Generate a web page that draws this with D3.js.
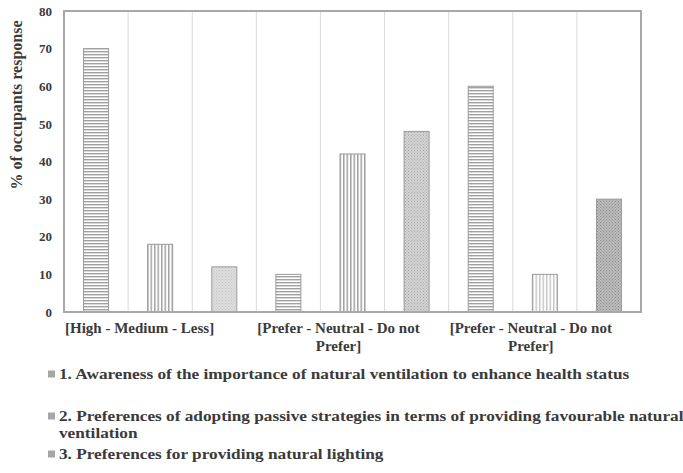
<!DOCTYPE html>
<html>
<head>
<meta charset="utf-8">
<script src="https://cdn.jsdelivr.net/npm/d3@7"></script>
<style>
  html, body { margin: 0; padding: 0; background: #fff; }
  svg { display: block; }
  text { font-family: "Liberation Serif", "Times New Roman", serif; font-weight: bold; fill: #3a3a3a; }
</style>
</head>
<body>
<svg id="chart" width="683" height="473"></svg>
<script>
// Survey response groups (one per category label on the x axis)
const groupLabels = [
  ["[High - Medium - Less]"],
  ["[Prefer - Neutral - Do not", "Prefer]"],
  ["[Prefer - Neutral - Do not", "Prefer]"]
];
// Answer order inside each group
const answers = ["first", "second", "third"];
// % of occupants per group, in answer order
const awarenessValues = [70, 18, 12];
const ventilationValues = [10, 42, 48];
const lightingValues = [60, 10, 30];
const seriesValues = [awarenessValues, ventilationValues, lightingValues];
const yTicks = [0, 10, 20, 30, 40, 50, 60, 70, 80];
const legendLabels = [
  ["1. Awareness of the importance of natural ventilation to enhance health status"],
  ["2. Preferences of adopting passive strategies in terms of providing favourable natural", "ventilation"],
  ["3. Preferences for providing natural lighting"]
];

const svg = d3.select("#chart");
const margin = { left: 64, right: 42, top: 11, bottom: 161 };
const W = 683, H = 473;
const x0 = margin.left, x1 = W - margin.right, yTop = margin.top, yBot = H - margin.bottom;

// Flatten bars: one slot per (group, answer)
const bars = [];
seriesValues.forEach((vals, g) => vals.forEach((v, a) => bars.push({ g, a, v, id: g + "-" + a })));

const x = d3.scaleBand().domain(bars.map(d => d.id)).range([x0, x1]).padding(0);
const y = d3.scaleLinear().domain([0, 80]).range([yBot, yTop]);

// Fill patterns: horizontal lines, vertical lines, dots
const defs = svg.append("defs");
function hPattern(id, col) {
  const p = defs.append("pattern").attr("id", id).attr("patternUnits", "userSpaceOnUse").attr("width", 6).attr("height", 3);
  p.append("rect").attr("width", 6).attr("height", 3).attr("fill", "#fff");
  p.append("rect").attr("y", 0).attr("width", 6).attr("height", 1.4).attr("fill", col);
}
function vPattern(id, col) {
  const p = defs.append("pattern").attr("id", id).attr("patternUnits", "userSpaceOnUse").attr("width", 3.5).attr("height", 6);
  p.append("rect").attr("width", 3.5).attr("height", 6).attr("fill", "#fff");
  p.append("rect").attr("x", 0).attr("width", 1.5).attr("height", 6).attr("fill", col);
}
function dPattern(id, bg, col) {
  const p = defs.append("pattern").attr("id", id).attr("patternUnits", "userSpaceOnUse").attr("width", 3).attr("height", 3);
  p.append("rect").attr("width", 3).attr("height", 3).attr("fill", bg);
  p.append("rect").attr("x", 0).attr("y", 0).attr("width", 1).attr("height", 1).attr("fill", col);
  p.append("rect").attr("x", 1.5).attr("y", 1.5).attr("width", 1).attr("height", 1).attr("fill", col);
}
hPattern("h1", "#a0a0a0"); vPattern("v1", "#a4a4a4"); dPattern("d1", "#dedede", "#c4c4c4");
hPattern("h2", "#a0a0a0"); vPattern("v2", "#a0a0a0"); dPattern("d2", "#d4d4d4", "#aaaaaa");
hPattern("h3", "#a0a0a0"); vPattern("v3", "#c8c8c8"); dPattern("d3", "#bcbcbc", "#8a8a8a");
const fills = [["h1", "v1", "d1"], ["h2", "v2", "d2"], ["h3", "v3", "d3"]];

// Vertical gridlines between slots
const bounds = bars.slice(1).map(d => x(d.id));
svg.append("g").selectAll("line").data(bounds).join("line")
  .attr("x1", d => d).attr("x2", d => d).attr("y1", yTop).attr("y2", yBot)
  .attr("stroke", "#dadada").attr("stroke-width", 1);

// Bars
const bw = x.bandwidth() * 0.39;
svg.append("g").selectAll("rect").data(bars).join("rect")
  .attr("x", d => x(d.id) + (x.bandwidth() - bw) / 2)
  .attr("width", bw)
  .attr("y", d => y(d.v))
  .attr("height", d => y(0) - y(d.v))
  .attr("fill", d => `url(#${fills[d.g][d.a]})`)
  .attr("stroke", "#9a9a9a").attr("stroke-width", 1);

// Plot frame
svg.append("rect").attr("x", x0).attr("y", yTop).attr("width", x1 - x0).attr("height", yBot - yTop)
  .attr("fill", "none").attr("stroke", "#a8a8a8").attr("stroke-width", 2);

// Y axis tick labels
const yAxis = d3.axisLeft(y).tickValues(yTicks).tickSize(0).tickPadding(12);
const ya = svg.append("g").attr("transform", `translate(${x0},0)`).call(yAxis);
ya.select(".domain").remove();
ya.selectAll("text").attr("font-size", 13).attr("fill", "#3a3a3a");

// Y axis title
svg.append("text").attr("transform", "translate(22,105) rotate(-90)")
  .attr("text-anchor", "middle").attr("font-size", 16).text("% of occupants response");

// Group labels: first line starts at the group's left edge, wrap line centred under it
groupLabels.forEach((lines, g) => {
  const gx = x(g + "-0") + 1;
  const t1 = svg.append("text").attr("x", gx).attr("y", 333).attr("font-size", 15).text(lines[0]);
  if (lines[1]) {
    const len = t1.node().getComputedTextLength();
    svg.append("text").attr("x", gx + len / 2).attr("y", 351).attr("text-anchor", "middle")
      .attr("font-size", 15).text(lines[1]);
  }
});

// Legend (text slightly widened, as set in the source layout)
const legendY = [374, 416, 454];
const legendStretch = 1.15;
legendLabels.forEach((lines, i) => {
  svg.append("rect").attr("x", 48).attr("y", legendY[i] - 3.5).attr("width", 7).attr("height", 7).attr("fill", "#a6a6a6");
  lines.forEach((ln, j) => {
    svg.append("text")
      .attr("transform", `translate(59,${legendY[i] + 4.5 + j * 17}) scale(${legendStretch},1)`)
      .attr("font-size", 15).text(ln);
  });
});
</script>
</body>
</html>
